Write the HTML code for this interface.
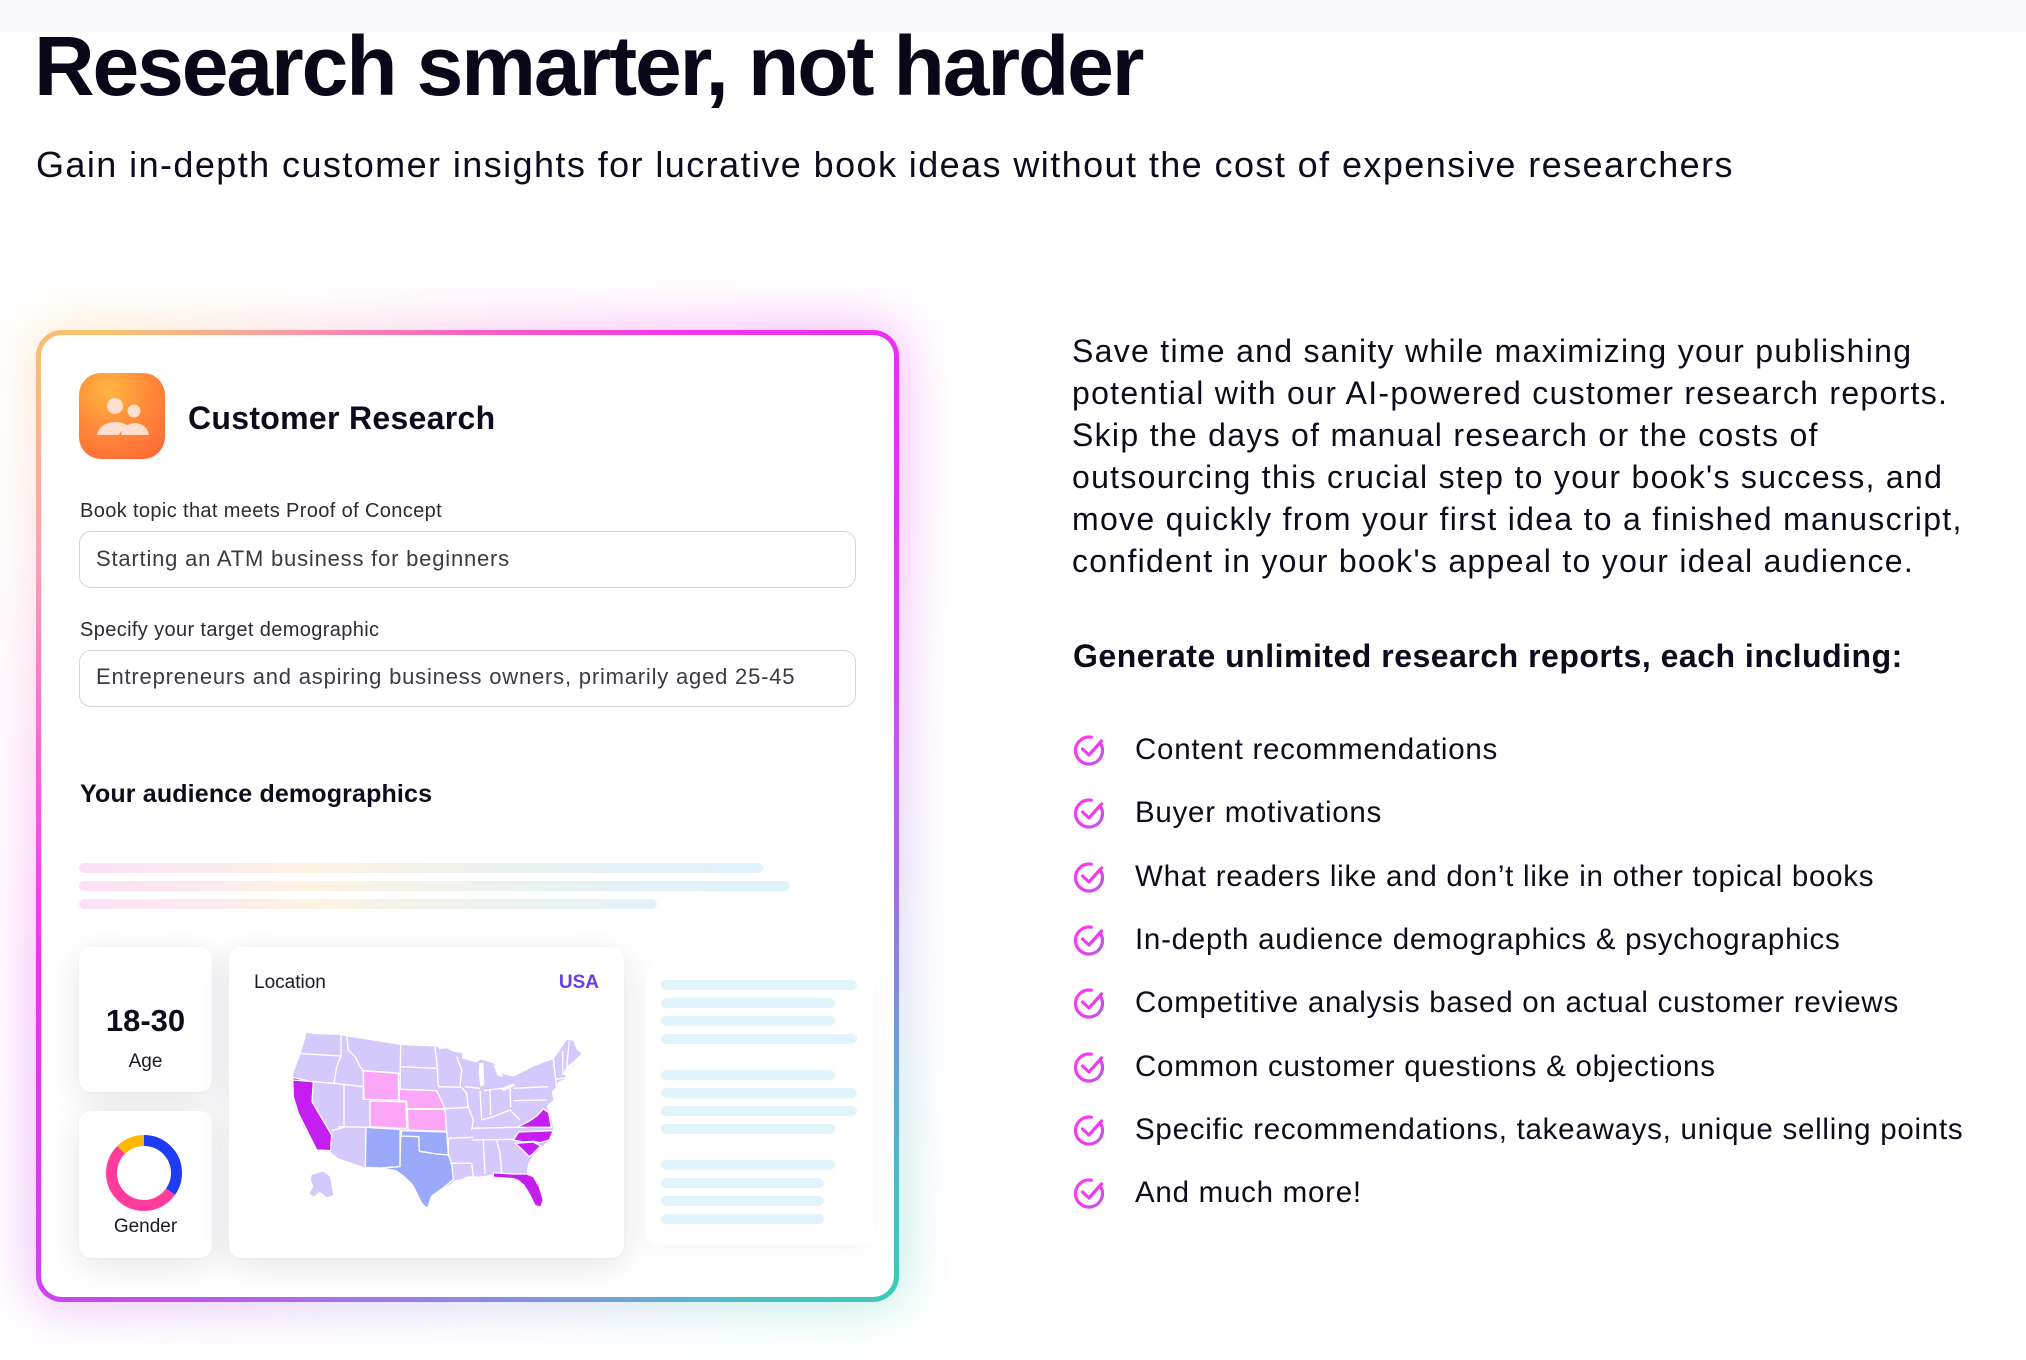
<!DOCTYPE html>
<html><head><meta charset="utf-8">
<style>
*{margin:0;padding:0;box-sizing:border-box}
html,body{width:2026px;height:1360px;background:#fff;overflow:hidden}
body{position:relative;font-family:"Liberation Sans",Arial,sans-serif;color:#0c0c1d}
.t{position:absolute;white-space:nowrap;line-height:1}
.topband{position:absolute;left:0;top:0;width:2026px;height:32px;background:#f8f8fa}
.glow{position:absolute;left:30px;top:324px;width:875px;height:984px;border-radius:30px;
 background:conic-gradient(from 0deg at 50% 50%,#f564c4 0deg,#f236ec 25deg,#e62ef4 50deg,#be58ec 80deg,#a070e2 100deg,#6aa0d2 120deg,#3ecab6 138deg,#4cc0c4 150deg,#7c9ed8 165deg,#a474e2 195deg,#c848ee 218deg,#f030f0 250deg,#f66ad4 280deg,#f8a0b4 300deg,#f8c46c 322deg,#f99aa6 340deg,#f564c4 360deg);
 filter:blur(26px);opacity:.32}
.frame{position:absolute;left:36px;top:330px;width:863px;height:972px;border-radius:26px;
 background:conic-gradient(from 0deg at 50% 50%,#f564c4 0deg,#f236ec 25deg,#e62ef4 50deg,#be58ec 80deg,#a070e2 100deg,#6aa0d2 120deg,#3ecab6 138deg,#4cc0c4 150deg,#7c9ed8 165deg,#a474e2 195deg,#c848ee 218deg,#f030f0 250deg,#f66ad4 280deg,#f8a0b4 300deg,#f8c46c 322deg,#f99aa6 340deg,#f564c4 360deg)}
.inner{position:absolute;left:41px;top:335px;width:853px;height:962px;border-radius:21px;background:#fff;overflow:hidden}
.icon{position:absolute;left:79px;top:373px;width:86px;height:86px;border-radius:22px;
 background:radial-gradient(circle at 35% 20%,#ffb640 0%,#ff8a3a 45%,#ff6236 100%)}
.input{position:absolute;left:79px;width:777px;height:57px;border:1.5px solid #d5d5da;border-radius:12px;background:#fff}
.lbl{font-size:20px;letter-spacing:.37px;color:#2b2b33}
.itx{font-size:22px;letter-spacing:.8px;color:#3a3a44}
.bar{position:absolute;left:79px;height:10px;border-radius:5px;
 background:linear-gradient(90deg,#fbe1f6 0px,#fce9f0 120px,#fdf3e2 230px,#eef2ee 400px,#e2f2f8 560px,#dff3fb 711px) 0 0/711px 100% no-repeat}
.sb{position:absolute;left:661px;height:10px;border-radius:5px;background:#e1f3fb}
.card{position:absolute;background:#fff;border-radius:12px;box-shadow:0 8px 36px rgba(30,30,60,.11),0 1px 3px rgba(0,0,0,.03)}
.body{position:absolute;left:1072px;top:330px;font-size:32px;line-height:42px;letter-spacing:1.29px;white-space:nowrap;color:#0c0c1d}
.item{font-size:29.5px;letter-spacing:.74px;left:1135px;color:#0c0c1d}
.chk{position:absolute;left:1074px;width:30px;height:31px}
</style></head>
<body>
<div class="topband"></div>

<div class="t" style="left:34px;top:24px;font-size:84px;font-weight:700;letter-spacing:-2.1px;color:#080818">Research smarter, not harder</div>
<div class="t" style="left:36px;top:146.5px;font-size:36px;letter-spacing:1.42px;color:#0c0c1d">Gain in-depth customer insights for lucrative book ideas without the cost of expensive researchers</div>

<div class="glow"></div>
<div class="frame"></div>
<div class="inner"></div>

<div style="position:absolute;left:645px;top:960px;width:228px;height:285px;border-radius:12px;box-shadow:0 8px 30px rgba(30,30,60,.035)"></div>

<div class="icon">
 <svg width="86" height="86" viewBox="0 0 86 86" style="position:absolute;left:0;top:0">
  <circle cx="36" cy="33" r="8" fill="#ffe3d6" opacity=".95"/>
  <circle cx="55" cy="38" r="6.5" fill="#ffe3d6" opacity=".95"/>
  <path d="M18 62 Q20 50 36 49 Q46 49 50 54 Q42 57 40 62 Z" fill="#ffe3d6" opacity=".95"/>
  <path d="M42 62 Q44 51 56 50 Q68 51 70 62 Z" fill="#ffe3d6" opacity=".95"/>
 </svg>
</div>
<div class="t" style="left:188px;top:402px;font-size:32px;font-weight:700;letter-spacing:.3px;color:#0c0c1d">Customer Research</div>

<div class="t lbl" style="left:80px;top:501px">Book topic that meets Proof of Concept</div>
<div class="input" style="top:531px"></div>
<div class="t itx" style="left:96px;top:548.4px">Starting an ATM business for beginners</div>

<div class="t lbl" style="left:80px;top:620px">Specify your target demographic</div>
<div class="input" style="top:650px"></div>
<div class="t itx" style="left:96px;top:666.4px">Entrepreneurs and aspiring business owners, primarily aged 25-45</div>

<div class="t" style="left:80px;top:782px;font-size:25px;font-weight:700;letter-spacing:.15px;color:#0c0c1d">Your audience demographics</div>

<div class="bar" style="top:863px;width:684px"></div>
<div class="bar" style="top:881px;width:711px"></div>
<div class="bar" style="top:899px;width:578px"></div>

<div class="card" style="left:79px;top:947px;width:133px;height:145px"></div>
<div class="t" style="left:79px;width:133px;text-align:center;top:1004.8px;font-size:31px;font-weight:700;color:#0c0c1d">18-30</div>
<div class="t" style="left:79px;width:133px;text-align:center;top:1052px;font-size:19px;color:#1a1a24">Age</div>

<div class="card" style="left:79px;top:1111px;width:133px;height:147px"></div>
<svg style="position:absolute;left:99px;top:1128px" width="90" height="90" viewBox="0 0 90 90">
 <g transform="rotate(-90 45 45)" fill="none" stroke-width="11">
  <circle cx="45" cy="45" r="32.5" stroke="#1f3cf5" stroke-dasharray="70.9 204.2" stroke-dashoffset="0"/>
  <circle cx="45" cy="45" r="32.5" stroke="#ff3b9c" stroke-dasharray="107.8 204.2" stroke-dashoffset="-70.9"/>
  <circle cx="45" cy="45" r="32.5" stroke="#ffb800" stroke-dasharray="25.5 204.2" stroke-dashoffset="-178.7"/>
 </g>
</svg>
<div class="t" style="left:79px;width:133px;text-align:center;top:1217px;font-size:19px;color:#1a1a24">Gender</div>

<div class="card" style="left:229px;top:947px;width:395px;height:311px"></div>
<div class="t" style="left:254px;top:973px;font-size:19px;color:#1a1a24">Location</div>
<div class="t" style="left:520px;width:79px;text-align:right;top:973px;font-size:19px;font-weight:700;color:#6a3de6">USA</div>

<svg style="position:absolute;left:280px;top:1020px" width="310" height="200" viewBox="0 0 930 600">
 <polygon fill="#d5c9fc" points="80,38 100,42 185,45 200,50 260,58 360,75 470,80 480,88 500,85 520,95 548,100 545,115 570,122 590,128 600,118 625,125 640,130 655,140 665,160 680,165 700,170 720,160 740,150 760,140 790,128 820,118 840,90 860,60 880,62 890,90 905,100 880,125 860,140 850,160 860,175 835,185 830,200 815,215 820,240 800,258 805,270 815,300 820,330 810,360 785,380 760,405 745,430 740,455 760,485 780,520 785,550 775,560 755,540 740,505 725,480 700,468 655,462 630,465 600,470 575,468 560,470 545,478 525,480 515,490 490,505 455,528 442,566 425,550 400,500 375,472 350,452 300,445 255,442 175,415 150,395 110,392 95,360 70,320 45,260 35,200 40,160 55,120 70,75"/>
 <polygon fill="#d5c9fc" points="95,465 130,455 150,470 155,500 160,525 140,532 120,515 100,530 88,520 100,500 92,480"/>
 <g stroke="#fff" stroke-width="4" stroke-linejoin="round">
  <polygon fill="#c41ef2" points="38,172 100,186 96,245 155,345 152,392 110,390 100,370 75,320 55,280 40,230"/>
  <polygon fill="#fba6f7" points="250,152 355,160 356,240 252,238"/>
  <polygon fill="#fba6f7" points="270,242 378,246 380,326 270,320"/>
  <polygon fill="#fba6f7" points="358,208 470,212 495,266 380,266 380,244 358,242"/>
  <polygon fill="#fba6f7" points="382,268 495,268 500,334 384,330"/>
  <polygon fill="#9ba9fb" points="258,322 360,328 360,440 300,444 256,442"/>
  <polygon fill="#9ba9fb" points="364,332 500,336 505,405 470,402 418,394 416,350 364,348"/>
  <polygon fill="#9ba9fb" points="362,348 416,350 418,394 470,402 505,405 515,430 520,478 488,505 455,528 442,566 425,550 398,495 372,470 348,452 300,445 360,440"/>
  <polygon fill="#c41ef2" points="712,322 745,305 770,288 790,266 806,278 814,322"/>
  <polygon fill="#c41ef2" points="700,360 716,336 820,332 808,360 780,368 760,364 730,366"/>
  <polygon fill="#c41ef2" points="706,370 760,366 782,378 760,400 748,410 730,392"/>
  <polygon fill="#c41ef2" points="640,458 700,462 740,462 760,470 778,500 790,540 782,562 765,556 748,522 732,496 715,482 700,476 640,472"/>
 </g>
 <g fill="#fff">
  <polygon points="545,100 600,106 625,112 590,122 560,118"/>
  <polygon points="598,130 610,128 613,195 601,200 596,160"/>
  <polygon points="640,135 662,140 668,172 652,166"/>
  <polygon points="660,206 700,190 706,196 672,213"/>
 </g>
 <g stroke="#fff" stroke-width="4" fill="none" stroke-linejoin="round">
  <polyline points="50,100 180,108"/>
  <polyline points="183,42 183,110 170,140 162,190"/>
  <polyline points="38,180 162,190 250,200"/>
  <polyline points="200,48 205,90 225,110 240,140 250,152"/>
  <polyline points="250,152 250,240"/>
  <polyline points="250,152 360,160"/>
  <polyline points="362,75 360,210"/>
  <polyline points="362,140 468,145"/>
  <polyline points="465,80 472,145 475,200"/>
  <polyline points="192,195 192,322"/>
  <polyline points="175,320 270,322"/>
  <polyline points="155,332 192,322"/>
  <polyline points="475,200 545,202"/>
  <polyline points="495,266 565,262"/>
  <polyline points="545,202 560,220 565,262 580,300 575,330"/>
  <polyline points="505,355 580,352"/>
  <polyline points="510,430 575,430"/>
  <polyline points="575,430 580,470"/>
  <polyline points="575,360 700,358"/>
  <polyline points="610,360 615,462"/>
  <polyline points="650,360 660,400 665,458"/>
  <polyline points="580,325 700,322 712,322"/>
  <polyline points="600,212 605,300"/>
  <polyline points="630,210 632,285"/>
  <polyline points="605,300 640,290 690,270 720,300"/>
  <polyline points="690,200 692,262"/>
  <polyline points="612,212 665,205"/>
  <polyline points="555,200 600,205"/>
  <polyline points="530,110 545,150 540,200"/>
  <polyline points="700,205 805,200"/>
  <polyline points="700,242 800,240"/>
  <polyline points="820,120 830,200"/>
  <polyline points="848,92 848,165"/>
  <polyline points="868,64 860,140"/>
  <polyline points="825,178 868,172"/>
  <polyline points="505,405 505,355"/>
 </g>
</svg>

<div class="sb" style="top:980px;width:196px"></div>
<div class="sb" style="top:998px;width:174px"></div>
<div class="sb" style="top:1016px;width:174px"></div>
<div class="sb" style="top:1034px;width:196px"></div>
<div class="sb" style="top:1070px;width:174px"></div>
<div class="sb" style="top:1088px;width:196px"></div>
<div class="sb" style="top:1106px;width:196px"></div>
<div class="sb" style="top:1124px;width:174px"></div>
<div class="sb" style="top:1160px;width:174px"></div>
<div class="sb" style="top:1178px;width:163px"></div>
<div class="sb" style="top:1196px;width:163px"></div>
<div class="sb" style="top:1214px;width:163px"></div>

<div class="body">Save time and sanity while maximizing your publishing<br>potential with our AI-powered customer research reports.<br>Skip the days of manual research or the costs of<br>outsourcing this crucial step to your book's success, and<br>move quickly from your first idea to a finished manuscript,<br>confident in your book's appeal to your ideal audience.</div>

<div class="t" style="left:1073px;top:640px;font-size:32px;font-weight:700;letter-spacing:.5px;color:#0c0c1d">Generate unlimited research reports, each including:</div>

<svg width="0" height="0" style="position:absolute">
 <defs>
  <linearGradient id="cg" x1="0" y1="0" x2="1" y2="1">
   <stop offset="0" stop-color="#ff3cf0"/>
   <stop offset="0.55" stop-color="#f03af0"/>
   <stop offset="1" stop-color="#b260e6"/>
  </linearGradient>
 </defs>
</svg>

<svg class="chk" style="top:735px" viewBox="0 0 30 31"><path d="M27.24 9.8 A13.5 13.5 0 1 1 17.34 2.2" fill="none" stroke="url(#cg)" stroke-width="3.2" stroke-linecap="round"/><path d="M8.5 14 L15 20 L27.5 6" fill="none" stroke="url(#cg)" stroke-width="3.2" stroke-linecap="round" stroke-linejoin="round"/></svg>
<svg class="chk" style="top:798.3px" viewBox="0 0 30 31"><path d="M27.24 9.8 A13.5 13.5 0 1 1 17.34 2.2" fill="none" stroke="url(#cg)" stroke-width="3.2" stroke-linecap="round"/><path d="M8.5 14 L15 20 L27.5 6" fill="none" stroke="url(#cg)" stroke-width="3.2" stroke-linecap="round" stroke-linejoin="round"/></svg>
<svg class="chk" style="top:861.6px" viewBox="0 0 30 31"><path d="M27.24 9.8 A13.5 13.5 0 1 1 17.34 2.2" fill="none" stroke="url(#cg)" stroke-width="3.2" stroke-linecap="round"/><path d="M8.5 14 L15 20 L27.5 6" fill="none" stroke="url(#cg)" stroke-width="3.2" stroke-linecap="round" stroke-linejoin="round"/></svg>
<svg class="chk" style="top:924.9px" viewBox="0 0 30 31"><path d="M27.24 9.8 A13.5 13.5 0 1 1 17.34 2.2" fill="none" stroke="url(#cg)" stroke-width="3.2" stroke-linecap="round"/><path d="M8.5 14 L15 20 L27.5 6" fill="none" stroke="url(#cg)" stroke-width="3.2" stroke-linecap="round" stroke-linejoin="round"/></svg>
<svg class="chk" style="top:988.2px" viewBox="0 0 30 31"><path d="M27.24 9.8 A13.5 13.5 0 1 1 17.34 2.2" fill="none" stroke="url(#cg)" stroke-width="3.2" stroke-linecap="round"/><path d="M8.5 14 L15 20 L27.5 6" fill="none" stroke="url(#cg)" stroke-width="3.2" stroke-linecap="round" stroke-linejoin="round"/></svg>
<svg class="chk" style="top:1051.5px" viewBox="0 0 30 31"><path d="M27.24 9.8 A13.5 13.5 0 1 1 17.34 2.2" fill="none" stroke="url(#cg)" stroke-width="3.2" stroke-linecap="round"/><path d="M8.5 14 L15 20 L27.5 6" fill="none" stroke="url(#cg)" stroke-width="3.2" stroke-linecap="round" stroke-linejoin="round"/></svg>
<svg class="chk" style="top:1114.8px" viewBox="0 0 30 31"><path d="M27.24 9.8 A13.5 13.5 0 1 1 17.34 2.2" fill="none" stroke="url(#cg)" stroke-width="3.2" stroke-linecap="round"/><path d="M8.5 14 L15 20 L27.5 6" fill="none" stroke="url(#cg)" stroke-width="3.2" stroke-linecap="round" stroke-linejoin="round"/></svg>
<svg class="chk" style="top:1178.1px" viewBox="0 0 30 31"><path d="M27.24 9.8 A13.5 13.5 0 1 1 17.34 2.2" fill="none" stroke="url(#cg)" stroke-width="3.2" stroke-linecap="round"/><path d="M8.5 14 L15 20 L27.5 6" fill="none" stroke="url(#cg)" stroke-width="3.2" stroke-linecap="round" stroke-linejoin="round"/></svg>

<div class="t item" style="top:735px">Content recommendations</div>
<div class="t item" style="top:798.3px">Buyer motivations</div>
<div class="t item" style="top:861.6px">What readers like and don’t like in other topical books</div>
<div class="t item" style="top:924.9px">In-depth audience demographics &amp; psychographics</div>
<div class="t item" style="top:988.2px">Competitive analysis based on actual customer reviews</div>
<div class="t item" style="top:1051.5px">Common customer questions &amp; objections</div>
<div class="t item" style="top:1114.8px">Specific recommendations, takeaways, unique selling points</div>
<div class="t item" style="top:1178.1px">And much more!</div>
</body></html>
